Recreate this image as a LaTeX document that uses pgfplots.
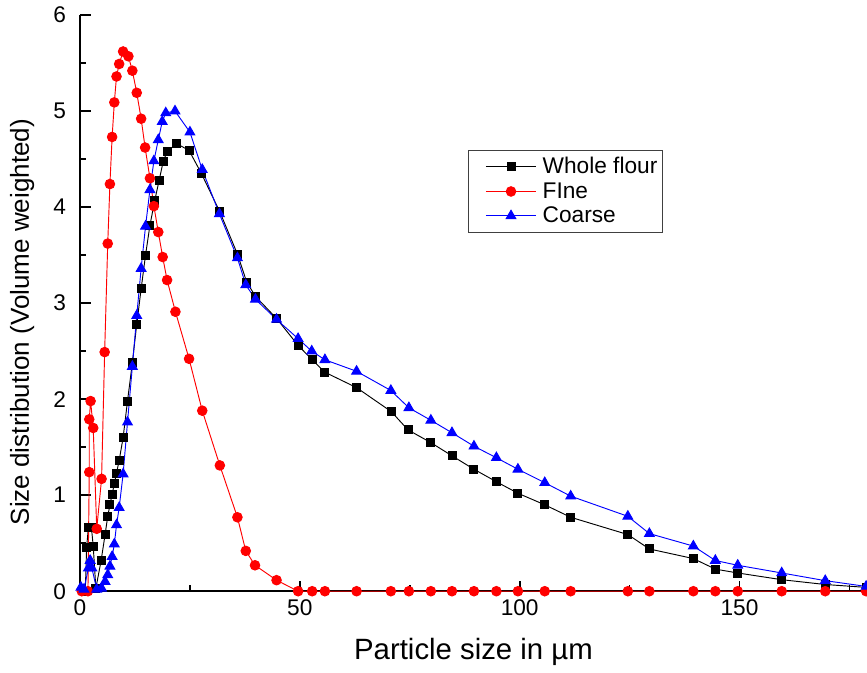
\documentclass[border=0pt]{standalone}
\usepackage{fontspec}
\setmainfont{Liberation Sans}
\usepackage{pgfplots}
\pgfplotsset{compat=1.18}
\usetikzlibrary{calc}

\definecolor{fineRed}{RGB}{255,0,0}
\definecolor{coarseBlue}{RGB}{0,0,255}

\begin{document}
\begin{tikzpicture}
\begin{axis}[
  scale only axis,
  width=590pt, height=432pt,
  xmin=0, xmax=179, ymin=0, ymax=6,
  axis lines=left,
  axis line style={-, line width=1.5pt},
  clip=false,
  xtick={0,50,100,150},
  minor xtick={25,75,125,175},
  ytick={0,1,2,3,4,5,6},
  minor ytick={0.5,1.5,2.5,3.5,4.5,5.5},
  tick align=inside,
  major tick length=8pt,
  minor tick length=4.5pt,
  every tick/.style={black, line width=1.3pt},
  /pgf/number format/assume math mode=true,
  tick label style={font=\fontsize{17}{20}\selectfont},
  xticklabel style={yshift=-3pt},
  yticklabel style={xshift=-7pt},
  xlabel={Particle size in µm},
  ylabel={Size distribution (Volume weighted)},
  every axis x label/.style={at={(axis description cs:0.5,-0.106)}, anchor=center,
    font=\fontsize{22}{26}\selectfont},
  every axis y label/.style={at={(axis description cs:-0.0737,0.467)}, rotate=90, anchor=center,
    font=\fontsize{19.5}{23}\selectfont},
  legend style={at={(axis description cs:0.493,0.766)}, anchor=north west,
    draw=black!75, line width=0.6pt, font=\fontsize{17}{19}\selectfont,
    row sep=2pt, inner xsep=2pt, inner ysep=4pt,
    nodes={inner sep=1.5pt}},
  legend cell align=left,
  legend image code/.code={
    \path (0cm,0cm) (1.81cm,0cm);
    \draw[mark repeat=2, mark phase=2, #1] plot coordinates {(0.38cm,0cm) (1.04cm,0cm) (1.70cm,0cm)};
  },
]
\coordinate (bl) at (rel axis cs:0,0);
\coordinate (tr) at (rel axis cs:1,1);

% Whole flour
\addplot[black, line width=0.7pt, mark=square*, mark size=3pt] coordinates {
(1.2,0.00) (1.5,0.46) (1.9,0.66) (2.6,0.66) (3.0,0.47) (3.6,0.03)
(4.8,0.32) (5.7,0.59) (6.3,0.78) (6.8,0.90) (7.3,1.01) (7.8,1.12)
(8.3,1.23) (8.9,1.36) (9.8,1.60) (10.8,1.98) (11.9,2.38) (12.9,2.78)
(13.9,3.15) (14.9,3.50) (15.9,3.81) (17.0,4.07) (18.0,4.28) (18.9,4.47)
(19.8,4.58) (22.0,4.66) (24.8,4.59) (27.6,4.35) (31.8,3.95) (35.8,3.51)
(37.9,3.22) (39.9,3.07) (44.7,2.84) (49.6,2.56) (52.8,2.41) (55.7,2.28)
(62.9,2.12) (70.8,1.87) (74.6,1.68) (79.7,1.55) (84.6,1.41) (89.6,1.27)
(94.7,1.14) (99.6,1.02) (105.7,0.90) (111.6,0.77) (124.6,0.59) (129.5,0.44)
(139.5,0.34) (144.5,0.23) (149.6,0.19) (159.6,0.12) (169.5,0.07) (178.8,0.04)
};
\addlegendentry{Whole flour}

% Fine fraction
\addplot[fineRed, line width=0.7pt, mark=*, mark size=3.6pt] coordinates {
(0.4,0.00) (1.8,0.00) (2.1,1.24) (2.1,1.79) (2.4,1.98) (3.0,1.70)
(3.8,0.65) (4.9,1.17) (5.6,2.49) (6.3,3.62) (6.8,4.24) (7.3,4.73)
(7.8,5.09) (8.3,5.36) (8.9,5.49) (9.8,5.62) (11.0,5.57) (11.9,5.42)
(12.9,5.19) (13.9,4.92) (14.8,4.62) (15.9,4.30) (16.8,4.01) (17.8,3.74)
(18.8,3.48) (19.8,3.24) (21.7,2.91) (24.8,2.42) (27.8,1.88) (31.8,1.31)
(35.8,0.77) (37.7,0.42) (39.8,0.27) (44.7,0.115) (49.6,0.00) (52.8,0.00)
(55.7,0.00) (62.9,0.00) (70.7,0.00) (74.8,0.00) (79.8,0.00) (84.6,0.00)
(89.6,0.00) (94.7,0.00) (99.6,0.00) (105.7,0.00) (111.6,0.00) (124.6,0.00)
(129.5,0.00) (139.5,0.00) (144.5,0.00) (149.6,0.00) (159.6,0.00) (169.5,0.00)
(178.8,0.00)
};
\addlegendentry{FIne}

% Coarse fraction
\addplot[coarseBlue, line width=0.7pt, mark=triangle*, mark size=4.2pt] coordinates {
(0.2,0.04) (0.9,0.02) (1.9,0.24) (2.3,0.32) (2.7,0.24) (3.8,0.02)
(4.9,0.03) (5.7,0.10) (6.3,0.17) (6.8,0.26) (7.3,0.36) (7.8,0.49)
(8.3,0.69) (8.9,0.87) (9.8,1.22) (10.8,1.76) (11.9,2.34) (12.9,2.87)
(13.9,3.36) (14.9,3.80) (15.9,4.18) (16.8,4.48) (17.8,4.70) (18.7,4.89)
(19.5,4.98) (21.6,5.00) (25.0,4.78) (27.8,4.39) (31.7,3.93) (35.8,3.47)
(37.7,3.19) (39.9,3.04) (44.7,2.83) (49.6,2.63) (52.7,2.50) (55.7,2.41)
(62.9,2.29) (70.7,2.09) (74.8,1.91) (79.8,1.78) (84.6,1.65) (89.6,1.51)
(94.7,1.39) (99.6,1.27) (105.7,1.13) (111.6,0.99) (124.6,0.78) (129.5,0.60)
(139.5,0.47) (144.5,0.32) (149.6,0.27) (159.6,0.19) (169.5,0.11) (178.8,0.05)
};
\addlegendentry{Coarse}
\end{axis}
\pgfresetboundingbox
\path ($(bl)+(-60pt,-60.75pt)$) rectangle ($(tr)+(0pt,11.25pt)$);
\end{tikzpicture}
\end{document}
